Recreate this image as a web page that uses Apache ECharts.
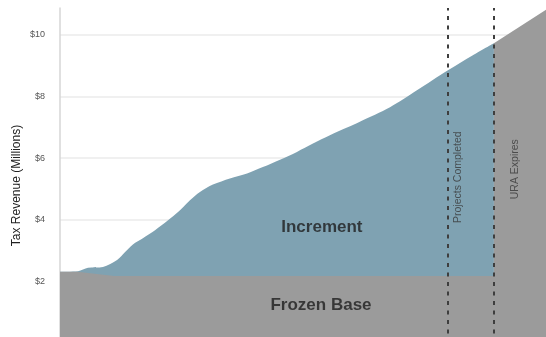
<!DOCTYPE html>
<html>
<head>
<meta charset="utf-8">
<script src="https://cdn.jsdelivr.net/npm/echarts@6/dist/echarts.min.js"></script>
<style>
html,body{margin:0;padding:0;background:#fff;}
#chart{width:546px;height:337px;}
</style>
</head>
<body>
<div id="chart"></div>
<script>
// Years since district formation (x) and total tax revenue in $ millions (y)
var totalYears   = [0, 0.83, 1.29, 1.98, 2.63, 3.0, 3.36, 3.82, 4.38, 4.98, 5.44, 5.76, 5.99, 6.45, 7.05, 7.83, 8.62, 9.35, 10.14, 10.92, 11.66, 12.44, 13.23, 13.82, 15.21, 16.45, 17.88, 19.03, 20];
var totalRevenue = [2.31, 2.33, 2.44, 2.47, 2.69, 2.95, 3.20, 3.40, 3.66, 3.98, 4.25, 4.47, 4.63, 4.90, 5.14, 5.34, 5.50, 5.71, 5.95, 6.20, 6.47, 6.74, 6.99, 7.18, 7.65, 8.20, 8.85, 9.34, 9.73];
// Frozen base, then full revenue returning to taxing bodies after the URA expires
var baseYears    = [0, 0.8, 2.5, 20, 20, 22.4];
var baseRevenue  = [2.31, 2.31, 2.17, 2.17, 9.73, 10.81];
// Event markers
var eventNames   = ['Projects Completed', 'URA Expires'];
var eventYears   = [17.88, 20];
// Y axis
var yMin = 0, yMax = 10.87, yStep = 2, xMax = 22.4;
// Area labels
var areaLabels   = ['Increment', 'Frozen Base'];
var areaLabelPos = [[12.07, 3.74], [12.03, 1.22]];
var eventLabelPos = [[18.35, 5.38], [20.97, 5.64]];

function pairs(xs, ys){ return xs.map(function(x,i){ return [x, ys[i]]; }); }

var FONT = 'Liberation Sans, Arial, sans-serif';
var annData = [];
areaLabels.forEach(function(t,i){
  annData.push({value: areaLabelPos[i], label:{show:true, formatter:t, fontSize:17, fontWeight:'bold', color:'#1e1e1e', fontFamily:FONT, position:'inside'}});
});
eventNames.forEach(function(t,i){
  annData.push({value: eventLabelPos[i], label:{show:true, formatter:t, fontSize:10.5, color:'#383838', rotate:90, fontFamily:FONT, position:'inside'}});
});

var chart = echarts.init(document.getElementById('chart'), null, {renderer:'canvas'});
chart.setOption({
  animation:false,
  grid:{left:60, right:0, top:8, bottom:-6, containLabel:false, outerBoundsMode:'none'},
  xAxis:{type:'value', min:0, max:xMax, show:false},
  yAxis:{
    type:'value', min:yMin, max:yMax, interval:yStep,
    name:'Tax Revenue (Millions)', nameLocation:'middle', nameGap:37, nameRotate:90, nameMoveOverlap:false,
    nameTextStyle:{fontSize:12, color:'#222', fontFamily:FONT, padding:[0,20,0,0]},
    axisLine:{show:true, lineStyle:{color:'#d6d6d6', width:1.5}},
    axisTick:{show:false},
    axisLabel:{formatter:function(v){return '$'+v;}, fontSize:9, color:'#555', margin:15, showMaxLabel:false, showMinLabel:false, fontFamily:FONT},
    splitLine:{show:true, showMaxLine:false, showMinLine:false, lineStyle:{color:'#ebebeb', width:1.5}}
  },
  series:[
    {type:'line', name:'Increment', data:pairs(totalYears,totalRevenue), smooth:0.3, symbol:'none',
     lineStyle:{width:0}, areaStyle:{color:'#7fa2b2', opacity:1}, z:2, silent:true},
    {type:'line', name:'Frozen Base', data:pairs(baseYears,baseRevenue), smooth:false, symbol:'none',
     lineStyle:{width:0}, areaStyle:{color:'#9b9b9b', opacity:1}, z:3, silent:true},
    {type:'scatter', name:'labels', data:annData, symbolSize:0, z:6, silent:true,
     markLine:{silent:true, symbol:['none','none'], label:{show:false},
       lineStyle:{type:[4,5.5], color:'#3e3e3e', width:2},
       data:eventYears.map(function(x){return {xAxis:x};})}}
  ]
});
</script>
</body>
</html>
